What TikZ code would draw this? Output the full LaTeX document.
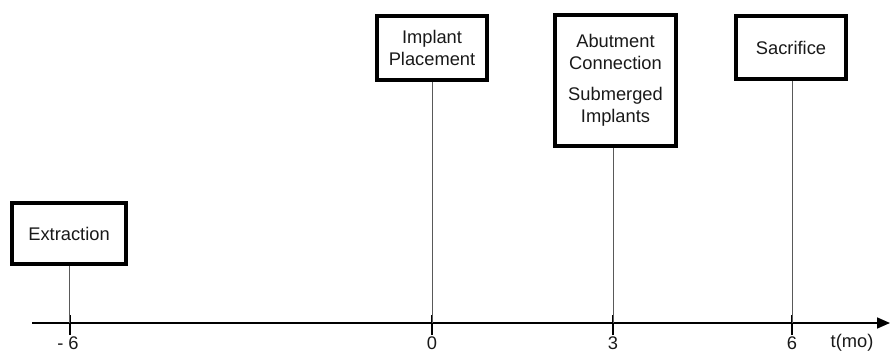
\documentclass[tikz,border=0pt]{standalone}
\usepackage{fontspec}
\setmainfont{Liberation Sans}
\usetikzlibrary{arrows.meta}
\begin{document}
\begin{tikzpicture}[x=1pt,y=-1pt,
  evbox/.style={draw=black,line width=3.6pt,align=center,inner sep=0pt,
    font=\fontsize{18.3}{21.5}\selectfont,text=black!90},
  stem/.style={draw=black!65,line width=0.8pt},
  tickmark/.style={draw=black,line width=1.6pt},
  ticklabel/.style={font=\fontsize{18.3}{21}\selectfont,text=black!90,inner sep=0pt}]
\useasboundingbox (0,0) rectangle (890,353);
% boxes
\node[evbox,minimum width=114.5pt,minimum height=61.5pt] (ext) at (69,233.5) {Extraction};
\node[evbox,minimum width=110.5pt,minimum height=64.5pt] (imp) at (432,48) {Implant\\Placement};
\node[evbox,minimum width=121.5pt,minimum height=131.5pt] (abu) at (615.5,80.5) {Abutment\\Connection\\[10pt]Submerged\\Implants};
\node[evbox,minimum width=110.5pt,minimum height=63.5pt] (sac) at (791,47.5) {Sacrifice};
% axis
\coordinate (ax0) at (32,323);
\coordinate (ax1) at (890,323);
\draw[line width=1.6pt,-{Triangle[length=13pt,width=11pt]}] (ax0) -- (ax1);
% tick positions
\coordinate (tm6) at (70,323);
\coordinate (t0) at (432,323);
\coordinate (t3) at (613,323);
\coordinate (t6) at (792,323);
\foreach \t in {tm6,t0,t3,t6}{
  \draw[tickmark] ([yshift=-12pt]\t) -- ([yshift=8pt]\t);
}
% stems
\draw[stem] (ext.south) -- (ext.south |- tm6);
\draw[stem] (imp.south) -- (t0);
\draw[stem] (abu.south -| t3) -- (t3);
\draw[stem] (sac.south -| t6) -- (t6);
% labels
\node[ticklabel] (lm6) at (68,343) {- 6};
\node[ticklabel] (l0) at (432,343) {0};
\node[ticklabel] (l3) at (613,343) {3};
\node[ticklabel] (l6) at (792,343) {6};
\node[ticklabel] (lt) at (852,343) {t(mo)};
\end{tikzpicture}
\end{document}
